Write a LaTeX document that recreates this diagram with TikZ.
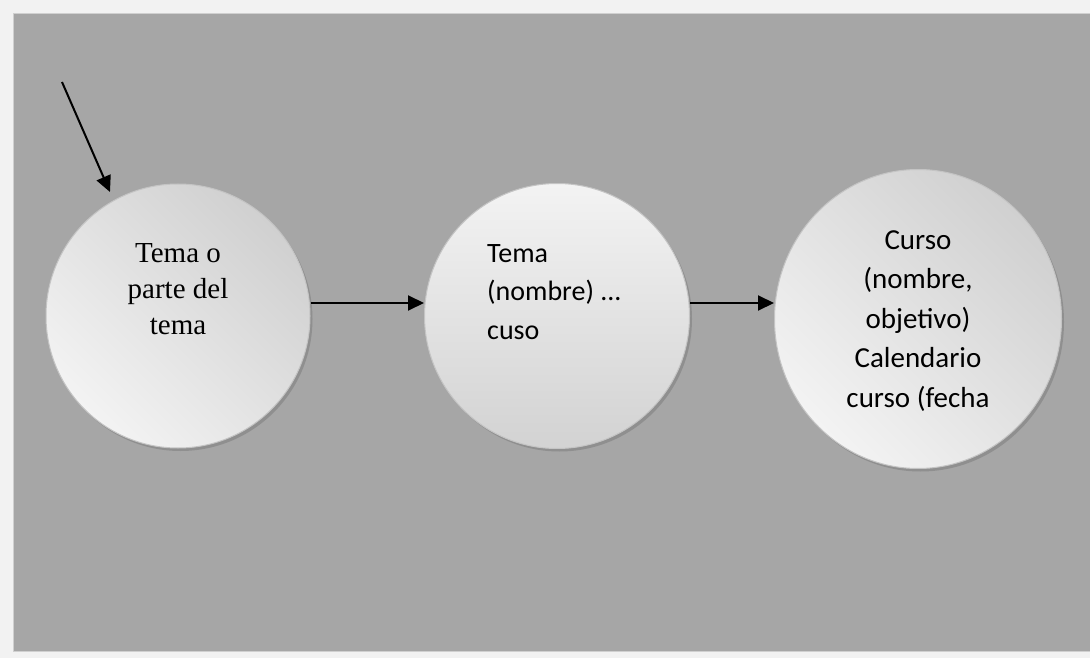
\documentclass[tikz,border=0pt]{standalone}
\usepackage{fontspec}
\setmainfont{Liberation Serif}
\newfontfamily\calib{Carlito}
\usetikzlibrary{arrows.meta,shapes.geometric,shadows}
\definecolor{outerbg}{HTML}{F2F2F2}
\definecolor{panel}{HTML}{A6A6A6}
\definecolor{paneledge}{HTML}{D0D0D0}
\definecolor{ringedge}{HTML}{C4C4C4}
\definecolor{shadeD}{HTML}{D0D0D0}
\definecolor{shadeL}{HTML}{F3F3F3}
\tikzset{
  bubble/.style={circle, draw=ringedge, line width=1pt, inner sep=0pt,
    drop shadow={shadow xshift=2.5pt, shadow yshift=-3pt, opacity=0.25, fill=black!70}},
  shadeA/.style={top color=shadeD, bottom color=shadeL, shading angle=-45},
  shadeB/.style={top color=shadeL, bottom color=shadeD!95},
  arr/.style={line width=2pt, -{Triangle[length=16pt,width=15pt]}},
  serif/.style={font=\fontsize{29}{36}\selectfont, inner sep=0pt, align=center},
  sans/.style={font=\calib\fontsize{28}{38.5}\selectfont, inner sep=0pt},
  sansbig/.style={font=\calib\fontsize{29}{39.5}\selectfont, inner sep=0pt},
}
\begin{document}
\begin{tikzpicture}[x=1pt,y=-1pt]
\useasboundingbox (0,0) rectangle (1090,658);
\fill[outerbg] (0,0) rectangle (1090,658);
\filldraw[fill=panel, draw=paneledge, line width=0.8pt] (13,13) rectangle (1092,651);

\node[bubble, shadeA, minimum size=264pt] (c1) at (178,316) {};
\node[bubble, shadeB, minimum size=265pt] (c2) at (557,316) {};
\node[bubble, shadeA, ellipse, minimum width=287pt, minimum height=299pt] (c3) at (918,319) {};

\node[serif] (t1) at (178,289) {Tema o\\parte del\\tema};
\node[sans, anchor=west, align=left] (t2) at (487,292) {Tema\\(nombre) ...\\cuso};
\node[sansbig, align=center] (t3) at (918,321) {Curso\\(nombre,\\objetivo)\\Calendario\\curso (fecha};

\coordinate (s) at (62,82);
\coordinate (t) at (110,192);
\draw[arr] (s) -- (t);
\draw[arr] ([yshift=13pt]c1.east) -- ([yshift=13pt]c2.west);
\draw[arr] ([yshift=13pt]c2.east) -- ([yshift=16pt]c3.west);
\end{tikzpicture}
\end{document}
